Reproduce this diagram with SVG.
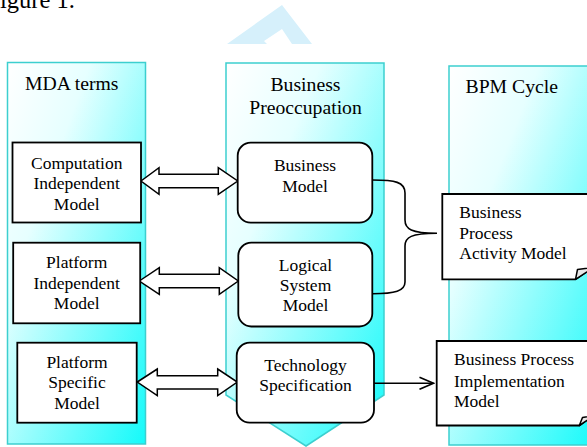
<svg xmlns="http://www.w3.org/2000/svg" width="587" height="447" viewBox="0 0 587 447">
  <defs>
    <linearGradient id="colGrad" x1="0" y1="0" x2="1" y2="1">
      <stop offset="0" stop-color="#ffffff"/>
      <stop offset="0.3" stop-color="#e6ffff"/>
      <stop offset="1" stop-color="#14fafa"/>
    </linearGradient>
    <marker id="openArrow" markerWidth="16" markerHeight="14" refX="15" refY="7" orient="auto" markerUnits="userSpaceOnUse">
      <path d="M1,1 L15,7 L1,13" fill="none" stroke="#000" stroke-width="1.6"/>
    </marker>
  </defs>
  <style>
    .col { fill: url(#colGrad); stroke: #3ccfcf; stroke-width: 1.5; }
    .box { fill: #ffffff; stroke: #000000; stroke-width: 1.8; }
    .dbl { fill: #ffffff; stroke: #000000; stroke-width: 1.5; stroke-linejoin: miter; }
    .head { font-family: "Liberation Serif", "Times New Roman", serif; font-size: 19.7px; fill: #000; }
    .txt { font-family: "Liberation Serif", "Times New Roman", serif; font-size: 17.5px; fill: #000; }
    .mid { text-anchor: middle; }
    .line { fill: none; stroke: #000; stroke-width: 1.6; }
  </style>

  <text x="0" y="8" font-family="'Liberation Serif', 'Times New Roman', serif" font-size="24.5" fill="#000">igure 1.</text>

  <polygon points="227,44 282,5 312,44 292,44 282,29 264,41 267,44" fill="#d6f0fb"/>

  <g id="col-mda">
    <rect class="col" x="7.5" y="62.5" width="138" height="381.5"/>
    <text class="head" x="25" y="90">MDA terms</text>
  </g>
  <g id="col-business">
    <polygon class="col" points="226,63 384,63 384,395 306,446 226,395"/>
    <text class="head mid" x="305.5" y="90.5">Business</text>
    <text class="head mid" x="305.5" y="114">Preoccupation</text>
  </g>
  <g id="col-bpm">
    <rect class="col" x="449" y="66" width="150" height="379"/>
    <text class="head" x="465.5" y="93">BPM Cycle</text>
  </g>

  <g id="connectors">
    <polygon class="dbl" points="141,181 159,167.7 159,174.3 218.3,174.3 218.3,167.7 237.7,181 218.3,194.3 218.3,187.7 159,187.7 159,194.3"/>
    <polygon class="dbl" points="139.3,281 159.3,267.7 159.3,274.3 219.3,274.3 219.3,267.7 238.3,281 219.3,294.3 219.3,287.7 159.3,287.7 159.3,294.3"/>
    <polygon class="dbl" points="137.3,382 157.3,369 157.3,375.8 217.7,375.8 217.7,369 237.3,382 217.7,395.5 217.7,389 157.3,389 157.3,395.5"/>
    <path class="line" d="M372.5,180 C395,180 405,182 405,193 L405,220 C405,229 411,233 437,233.3 C411,233.6 405,237 405,246 L405,282 C405,291 395,293.7 372.5,293.7"/>
    <line class="line" x1="374" y1="383.3" x2="433.5" y2="383.3" marker-end="url(#openArrow)"/>
  </g>

  <g id="cim">
    <rect class="box" x="12.5" y="142.5" width="128.5" height="80"/>
    <text class="txt mid" x="76.7" y="168.5">Computation</text>
    <text class="txt mid" x="76.7" y="189">Independent</text>
    <text class="txt mid" x="76.7" y="209.5">Model</text>
  </g>
  <g id="pim">
    <rect class="box" x="13.2" y="242.7" width="127" height="80.6"/>
    <text class="txt mid" x="76.7" y="268">Platform</text>
    <text class="txt mid" x="76.7" y="288.5">Independent</text>
    <text class="txt mid" x="76.7" y="309">Model</text>
  </g>
  <g id="psm">
    <rect class="box" x="17.3" y="342.7" width="119.4" height="80"/>
    <text class="txt mid" x="77" y="368">Platform</text>
    <text class="txt mid" x="77" y="388">Specific</text>
    <text class="txt mid" x="77" y="408.5">Model</text>
  </g>

  <g id="business-model">
    <rect class="box" x="237.7" y="142.7" width="134.6" height="80" rx="13" ry="13"/>
    <text class="txt mid" x="305" y="171">Business</text>
    <text class="txt mid" x="305" y="191.5">Model</text>
  </g>
  <g id="logical-system-model">
    <rect class="box" x="238.3" y="242.7" width="134" height="83.8" rx="13" ry="13"/>
    <text class="txt mid" x="305.5" y="270.7">Logical</text>
    <text class="txt mid" x="305.5" y="290.7">System</text>
    <text class="txt mid" x="305.5" y="310.7">Model</text>
  </g>
  <g id="technology-specification">
    <rect class="box" x="236.7" y="342.7" width="137.3" height="80" rx="13" ry="13"/>
    <text class="txt mid" x="305.5" y="371">Technology</text>
    <text class="txt mid" x="305.5" y="391">Specification</text>
  </g>

  <g id="bpam">
    <path class="box" d="M442.3,194 H594 V266.5 L575.5,279.3 H442.3 Z"/>
    <path d="M575.5,279.3 L577.5,269.5 L594,267.5 Z" fill="#e8e8e8" stroke="#000" stroke-width="1.5" stroke-linejoin="round"/>
    <text class="txt" x="459.3" y="217.7">Business</text>
    <text class="txt" x="459.3" y="238.5">Process</text>
    <text class="txt" x="459.3" y="258.5">Activity Model</text>
  </g>
  <g id="bpim">
    <path class="box" d="M436.7,341 H594 V415 L579.3,425.5 H436.7 Z"/>
    <path d="M579.3,425.5 L582.5,417.5 L594,415.8 Z" fill="#e8e8e8" stroke="#000" stroke-width="1.5" stroke-linejoin="round"/>
    <text class="txt" x="454" y="365">Business Process</text>
    <text class="txt" x="454" y="386.5">Implementation</text>
    <text class="txt" x="454" y="406.5">Model</text>
  </g>
</svg>
